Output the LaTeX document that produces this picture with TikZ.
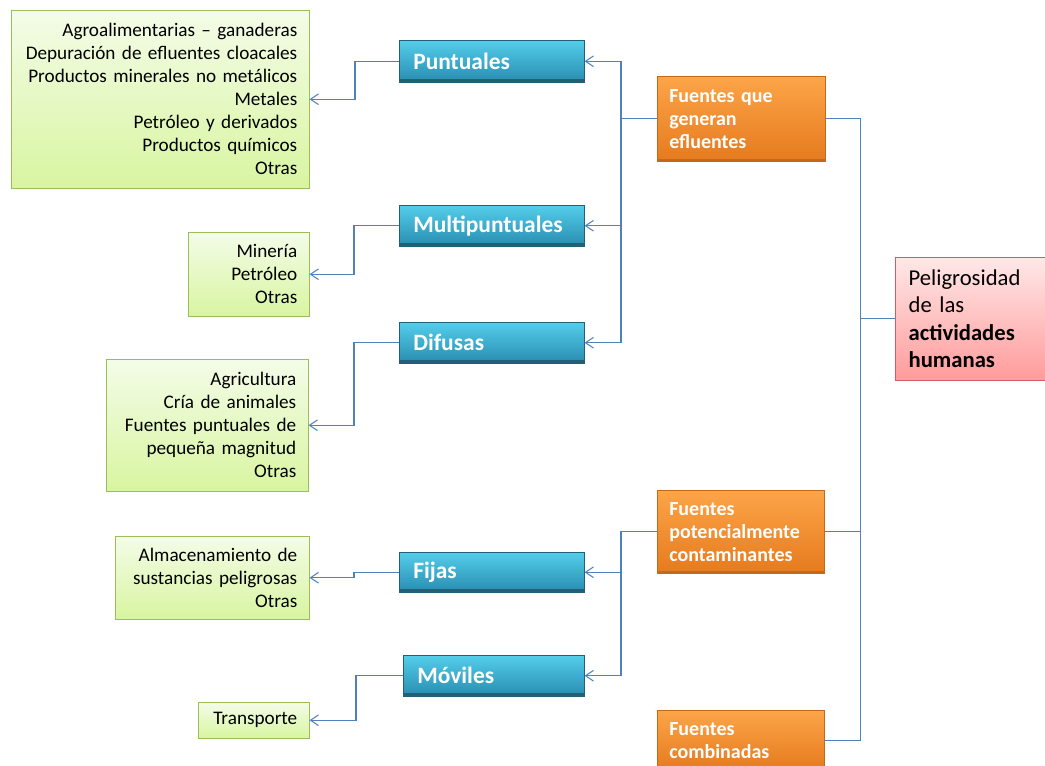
\documentclass[tikz,border=0pt]{standalone}
\usepackage{fontspec}
\setmainfont{Carlito}
\usepackage{tikz}
\usetikzlibrary{arrows.meta}

\newcommand\pxu{0.75pt}

\definecolor{linkblue}{RGB}{79,129,189}
\definecolor{bluetop}{RGB}{84,206,234}
\definecolor{bluebot}{RGB}{40,140,176}
\definecolor{blueedge}{RGB}{34,96,118}
\definecolor{orangetop}{RGB}{252,165,72}
\definecolor{orangebot}{RGB}{230,122,30}
\definecolor{orangeedge}{RGB}{196,104,26}
\definecolor{greentop}{RGB}{244,252,232}
\definecolor{greenbot}{RGB}{216,245,160}
\definecolor{greenedge}{RGB}{155,190,90}
\definecolor{redtop}{RGB}{255,232,232}
\definecolor{redbot}{RGB}{255,155,155}
\definecolor{rededge}{RGB}{205,95,95}

\begin{document}
\begin{tikzpicture}[
    x=\pxu, y=-\pxu,
    gbox/.style={draw=greenedge, top color=greentop, bottom color=greenbot, anchor=north west,
        align=right, inner xsep=9pt, inner ysep=0pt, font=\fontsize{14.4}{17.25}\selectfont},
    bbox/.style={draw=blueedge, top color=bluetop, bottom color=bluebot, anchor=north west,
        align=left, inner xsep=10.5pt, inner ysep=0pt, text=white,
        font=\fontsize{17.6}{20}\selectfont\bfseries,
        path picture={\fill[blueedge] (path picture bounding box.south west)
            rectangle ([yshift=2.5pt]path picture bounding box.south east);}},
    obox/.style={draw=orangeedge, top color=orangetop, bottom color=orangebot, anchor=north west,
        align=left, inner xsep=9pt, inner ysep=0pt, text=white,
        font=\fontsize{15}{17.25}\selectfont\bfseries,
        path picture={\fill[orangeedge] (path picture bounding box.south west)
            rectangle ([yshift=2pt]path picture bounding box.south east);}},
    rbox/.style={draw=rededge, top color=redtop, bottom color=redbot, anchor=north west,
        align=left, inner xsep=10pt, inner ysep=0pt, font=\fontsize{17}{20.5}\selectfont},
    link/.style={draw=linkblue, line width=0.8pt},
    arr/.style={link, -{Straight Barb[length=6pt, width=8pt]}}
]
\useasboundingbox (0,0) rectangle (1045,766);

% root
\node[rbox, minimum width={165*\pxu}, minimum height={123*\pxu}, text width={139*\pxu}] (root) at (895,257)
    {Peligrosidad\\de las\\\textbf{actividades}\\\textbf{humanas}};

% sources
\node[obox, minimum width={168*\pxu}, minimum height={85*\pxu}, text width={144*\pxu}] (eff) at (657,76)
    {Fuentes que\\generan\\efluentes};
\node[obox, minimum width={167*\pxu}, minimum height={83*\pxu}, text width={143*\pxu}] (pot) at (657,490)
    {Fuentes\\potencialmente\\contaminantes};
\node[obox, minimum width={167*\pxu}, minimum height={60*\pxu}, text width={143*\pxu}] (comb) at (657,710)
    {Fuentes\\combinadas};

% categories
\node[bbox, minimum width={185*\pxu}, minimum height={42*\pxu}, text width={157*\pxu}] (punt) at (399,40) {Puntuales};
\node[bbox, minimum width={185*\pxu}, minimum height={41*\pxu}, text width={157*\pxu}] (multi) at (399,205) {Multipuntuales};
\node[bbox, minimum width={185*\pxu}, minimum height={41*\pxu}, text width={157*\pxu}] (difu) at (399,322) {Difusas};
\node[bbox, minimum width={185*\pxu}, minimum height={40*\pxu}, text width={157*\pxu}] (fija) at (399,552) {Fijas};
\node[bbox, minimum width={181*\pxu}, minimum height={41*\pxu}, text width={153*\pxu}] (movi) at (403,655) {Móviles};

% examples
\node[gbox, minimum width={298*\pxu}, minimum height={178*\pxu}, text width={274*\pxu}] (g1) at (11,10)
    {Agroalimentarias -- ganaderas\\Depuración de efluentes cloacales\\Productos minerales no metálicos\\Metales\\Petróleo y derivados\\Productos químicos\\Otras};
\node[gbox, minimum width={121*\pxu}, minimum height={84*\pxu}, text width={97*\pxu}] (g2) at (188,232)
    {Minería\\Petróleo\\Otras};
\node[gbox, minimum width={202*\pxu}, minimum height={132*\pxu}, text width={178*\pxu}] (g3) at (106,359)
    {Agricultura\\Cría de animales\\Fuentes puntuales de\\pequeña magnitud\\Otras};
\node[gbox, minimum width={194*\pxu}, minimum height={83*\pxu}, text width={170*\pxu}] (g4) at (115,536)
    {Almacenamiento de\\sustancias peligrosas\\Otras};
\node[gbox, minimum width={111*\pxu}, minimum height={36*\pxu}, text width={87*\pxu}] (g5) at (198,702)
    {Transporte};

% root links
\draw[link] (eff.east) -- ++(35,0) |- (root.west);
\draw[link] (pot.east) -- ++(36,0) |- (root.west);
\draw[link] (comb.east) -- ++(36,0) |- (root.west);

% source -> category
\draw[arr] (eff.west) -- ++(-36,0) |- (punt.east);
\draw[arr] (eff.west) -- ++(-36,0) |- (multi.east);
\draw[arr] (eff.west) -- ++(-36,0) |- (difu.east);
\draw[arr] (pot.west) -- ++(-36,0) |- (fija.east);
\draw[arr] (pot.west) -- ++(-36,0) |- (movi.east);

% category -> examples
\draw[arr] (punt.west) -- ++(-44,0) |- (g1.east);
\draw[arr] (multi.west) -- ++(-45,0) |- (g2.east);
\draw[arr] (difu.west) -- ++(-45,0) |- (g3.east);
\draw[arr] (fija.west) -- ++(-45,0) |- (g4.east);
\draw[arr] (movi.west) -- ++(-47,0) |- (g5.east);

\end{tikzpicture}
\end{document}
